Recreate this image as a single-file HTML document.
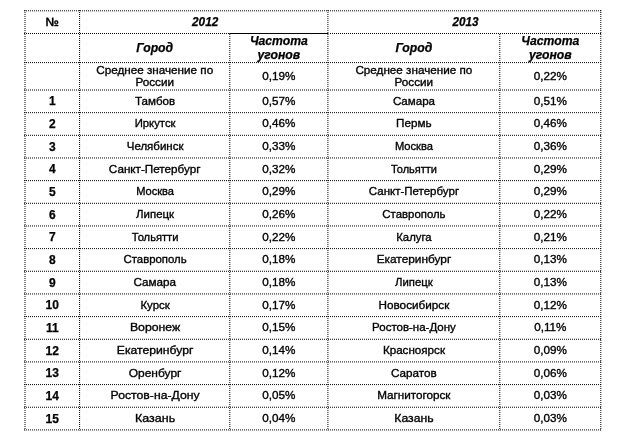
<!DOCTYPE html>
<html><head><meta charset="utf-8"><style>
html,body{margin:0;padding:0;background:#fff;}
body{width:625px;height:439px;overflow:hidden;position:relative;font-family:"Liberation Sans",Arial,sans-serif;color:#000;}
svg{position:absolute;left:0;top:0;}
.d{stroke:#000;stroke-width:1;stroke-dasharray:1 1;}
.t{position:absolute;text-align:center;white-space:nowrap;-webkit-text-stroke:0.35px #000;}
.b{font-weight:bold;-webkit-text-stroke:0.25px #000;}
.bi{font-weight:bold;font-style:italic;-webkit-text-stroke:0.25px #000;}
</style></head><body>
<svg width="625" height="439" viewBox="0 0 625 439">
<line x1="24.00" y1="10.80" x2="601.30" y2="10.80" class="d"/>
<line x1="24.00" y1="33.50" x2="229.30" y2="33.50" class="d"/>
<line x1="229.30" y1="33.50" x2="328.40" y2="33.50" stroke="#000" stroke-width="1"/>
<line x1="330.00" y1="33.50" x2="601.30" y2="33.50" class="d"/>
<line x1="24.00" y1="62.60" x2="601.30" y2="62.60" class="d"/>
<line x1="24.00" y1="90.00" x2="601.30" y2="90.00" class="d"/>
<line x1="24.00" y1="112.66" x2="601.30" y2="112.66" class="d"/>
<line x1="24.00" y1="135.32" x2="601.30" y2="135.32" class="d"/>
<line x1="24.00" y1="157.98" x2="601.30" y2="157.98" class="d"/>
<line x1="24.00" y1="180.64" x2="601.30" y2="180.64" class="d"/>
<line x1="24.00" y1="203.30" x2="601.30" y2="203.30" class="d"/>
<line x1="24.00" y1="225.96" x2="601.30" y2="225.96" class="d"/>
<line x1="24.00" y1="248.62" x2="601.30" y2="248.62" class="d"/>
<line x1="24.00" y1="271.28" x2="601.30" y2="271.28" class="d"/>
<line x1="24.00" y1="293.94" x2="601.30" y2="293.94" class="d"/>
<line x1="24.00" y1="316.60" x2="601.30" y2="316.60" class="d"/>
<line x1="24.00" y1="339.26" x2="601.30" y2="339.26" class="d"/>
<line x1="24.00" y1="361.92" x2="601.30" y2="361.92" class="d"/>
<line x1="24.00" y1="384.58" x2="601.30" y2="384.58" class="d"/>
<line x1="24.00" y1="407.24" x2="601.30" y2="407.24" class="d"/>
<line x1="24.00" y1="429.90" x2="601.30" y2="429.90" class="d"/>
<line x1="25.00" y1="10.00" x2="25.00" y2="430.40" class="d"/>
<line x1="79.60" y1="10.00" x2="79.60" y2="430.40" class="d"/>
<line x1="229.80" y1="34.00" x2="229.80" y2="430.40" class="d"/>
<line x1="327.90" y1="10.00" x2="327.90" y2="430.40" class="d"/>
<line x1="499.80" y1="34.00" x2="499.80" y2="430.40" class="d"/>
<line x1="600.80" y1="10.00" x2="600.80" y2="430.40" class="d"/>
</svg>
<div class="t b" style="left:25.00px;width:54.60px;top:14.89px;height:14px;line-height:14px;font-size:12.0px">№</div>
<div class="t bi" style="left:80.60px;width:248.30px;top:14.89px;height:14px;line-height:14px;font-size:12.2px;transform:scaleX(0.965)">2012</div>
<div class="t bi" style="left:329.10px;width:272.90px;top:14.89px;height:14px;line-height:14px;font-size:12.2px;transform:scaleX(0.960)">2013</div>
<div class="t bi" style="left:79.60px;width:150.20px;top:41.29px;height:14px;line-height:14px;font-size:12.2px">Город</div>
<div class="t bi" style="left:327.90px;width:171.90px;top:41.29px;height:14px;line-height:14px;font-size:12.2px">Город</div>
<div class="t bi" style="left:229.80px;width:98.10px;top:34.29px;height:14px;line-height:14px;font-size:12.2px">Частота</div>
<div class="t bi" style="left:229.80px;width:98.10px;top:48.29px;height:14px;line-height:14px;font-size:12.2px">угонов</div>
<div class="t bi" style="left:499.80px;width:101.00px;top:34.29px;height:14px;line-height:14px;font-size:12.2px">Частота</div>
<div class="t bi" style="left:499.80px;width:101.00px;top:48.29px;height:14px;line-height:14px;font-size:12.2px">угонов</div>
<div class="t" style="left:79.60px;width:150.20px;top:62.61px;height:14px;line-height:14px;font-size:11.7px">Среднее значение по</div>
<div class="t" style="left:79.60px;width:150.20px;top:75.36px;height:14px;line-height:14px;font-size:11.7px">России</div>
<div class="t" style="left:327.90px;width:171.90px;top:62.61px;height:14px;line-height:14px;font-size:11.7px">Среднее значение по</div>
<div class="t" style="left:327.90px;width:171.90px;top:75.36px;height:14px;line-height:14px;font-size:11.7px">России</div>
<div class="t" style="left:229.80px;width:98.10px;top:68.73px;height:14px;line-height:14px;font-size:11.7px">0,19%</div>
<div class="t" style="left:499.80px;width:101.00px;top:68.73px;height:14px;line-height:14px;font-size:11.7px">0,22%</div>
<div class="t b" style="left:25.00px;width:54.60px;top:94.27px;height:14px;line-height:14px;font-size:12.0px">1</div>
<div class="t" style="left:79.60px;width:150.20px;top:93.76px;height:14px;line-height:14px;font-size:11.7px;transform:scaleX(0.990)">Тамбов</div>
<div class="t" style="left:229.80px;width:98.10px;top:93.76px;height:14px;line-height:14px;font-size:11.7px">0,57%</div>
<div class="t" style="left:327.90px;width:171.90px;top:93.76px;height:14px;line-height:14px;font-size:11.7px;transform:scaleX(0.988)">Самара</div>
<div class="t" style="left:499.80px;width:101.00px;top:93.76px;height:14px;line-height:14px;font-size:11.7px">0,51%</div>
<div class="t b" style="left:25.00px;width:54.60px;top:116.93px;height:14px;line-height:14px;font-size:12.0px">2</div>
<div class="t" style="left:79.60px;width:150.20px;top:116.42px;height:14px;line-height:14px;font-size:11.7px;transform:scaleX(0.967)">Иркутск</div>
<div class="t" style="left:229.80px;width:98.10px;top:116.42px;height:14px;line-height:14px;font-size:11.7px">0,46%</div>
<div class="t" style="left:327.90px;width:171.90px;top:116.42px;height:14px;line-height:14px;font-size:11.7px">Пермь</div>
<div class="t" style="left:499.80px;width:101.00px;top:116.42px;height:14px;line-height:14px;font-size:11.7px">0,46%</div>
<div class="t b" style="left:25.00px;width:54.60px;top:139.59px;height:14px;line-height:14px;font-size:12.0px">3</div>
<div class="t" style="left:79.60px;width:150.20px;top:139.08px;height:14px;line-height:14px;font-size:11.7px;transform:scaleX(0.984)">Челябинск</div>
<div class="t" style="left:229.80px;width:98.10px;top:139.08px;height:14px;line-height:14px;font-size:11.7px">0,33%</div>
<div class="t" style="left:327.90px;width:171.90px;top:139.08px;height:14px;line-height:14px;font-size:11.7px;transform:scaleX(0.954)">Москва</div>
<div class="t" style="left:499.80px;width:101.00px;top:139.08px;height:14px;line-height:14px;font-size:11.7px">0,36%</div>
<div class="t b" style="left:25.00px;width:54.60px;top:162.25px;height:14px;line-height:14px;font-size:12.0px">4</div>
<div class="t" style="left:79.60px;width:150.20px;top:161.74px;height:14px;line-height:14px;font-size:11.7px">Санкт-Петербург</div>
<div class="t" style="left:229.80px;width:98.10px;top:161.74px;height:14px;line-height:14px;font-size:11.7px">0,32%</div>
<div class="t" style="left:327.90px;width:171.90px;top:161.74px;height:14px;line-height:14px;font-size:11.7px;transform:scaleX(0.941)">Тольятти</div>
<div class="t" style="left:499.80px;width:101.00px;top:161.74px;height:14px;line-height:14px;font-size:11.7px">0,29%</div>
<div class="t b" style="left:25.00px;width:54.60px;top:184.91px;height:14px;line-height:14px;font-size:12.0px">5</div>
<div class="t" style="left:79.60px;width:150.20px;top:184.40px;height:14px;line-height:14px;font-size:11.7px;transform:scaleX(0.948)">Москва</div>
<div class="t" style="left:229.80px;width:98.10px;top:184.40px;height:14px;line-height:14px;font-size:11.7px">0,29%</div>
<div class="t" style="left:327.90px;width:171.90px;top:184.40px;height:14px;line-height:14px;font-size:11.7px;transform:scaleX(0.985)">Санкт-Петербург</div>
<div class="t" style="left:499.80px;width:101.00px;top:184.40px;height:14px;line-height:14px;font-size:11.7px">0,29%</div>
<div class="t b" style="left:25.00px;width:54.60px;top:207.57px;height:14px;line-height:14px;font-size:12.0px">6</div>
<div class="t" style="left:79.60px;width:150.20px;top:207.06px;height:14px;line-height:14px;font-size:11.7px;transform:scaleX(0.979)">Липецк</div>
<div class="t" style="left:229.80px;width:98.10px;top:207.06px;height:14px;line-height:14px;font-size:11.7px">0,26%</div>
<div class="t" style="left:327.90px;width:171.90px;top:207.06px;height:14px;line-height:14px;font-size:11.7px;transform:scaleX(0.975)">Ставрополь</div>
<div class="t" style="left:499.80px;width:101.00px;top:207.06px;height:14px;line-height:14px;font-size:11.7px">0,22%</div>
<div class="t b" style="left:25.00px;width:54.60px;top:230.23px;height:14px;line-height:14px;font-size:12.0px">7</div>
<div class="t" style="left:79.60px;width:150.20px;top:229.72px;height:14px;line-height:14px;font-size:11.7px;transform:scaleX(0.955)">Тольятти</div>
<div class="t" style="left:229.80px;width:98.10px;top:229.72px;height:14px;line-height:14px;font-size:11.7px">0,22%</div>
<div class="t" style="left:327.90px;width:171.90px;top:229.72px;height:14px;line-height:14px;font-size:11.7px;transform:scaleX(0.972)">Калуга</div>
<div class="t" style="left:499.80px;width:101.00px;top:229.72px;height:14px;line-height:14px;font-size:11.7px">0,21%</div>
<div class="t b" style="left:25.00px;width:54.60px;top:252.89px;height:14px;line-height:14px;font-size:12.0px">8</div>
<div class="t" style="left:79.60px;width:150.20px;top:252.38px;height:14px;line-height:14px;font-size:11.7px;transform:scaleX(0.975)">Ставрополь</div>
<div class="t" style="left:229.80px;width:98.10px;top:252.38px;height:14px;line-height:14px;font-size:11.7px">0,18%</div>
<div class="t" style="left:327.90px;width:171.90px;top:252.38px;height:14px;line-height:14px;font-size:11.7px;transform:scaleX(1.014)">Екатеринбург</div>
<div class="t" style="left:499.80px;width:101.00px;top:252.38px;height:14px;line-height:14px;font-size:11.7px">0,13%</div>
<div class="t b" style="left:25.00px;width:54.60px;top:275.55px;height:14px;line-height:14px;font-size:12.0px">9</div>
<div class="t" style="left:79.60px;width:150.20px;top:275.04px;height:14px;line-height:14px;font-size:11.7px">Самара</div>
<div class="t" style="left:229.80px;width:98.10px;top:275.04px;height:14px;line-height:14px;font-size:11.7px">0,18%</div>
<div class="t" style="left:327.90px;width:171.90px;top:275.04px;height:14px;line-height:14px;font-size:11.7px;transform:scaleX(0.972)">Липецк</div>
<div class="t" style="left:499.80px;width:101.00px;top:275.04px;height:14px;line-height:14px;font-size:11.7px">0,13%</div>
<div class="t b" style="left:25.00px;width:54.60px;top:298.21px;height:14px;line-height:14px;font-size:12.0px">10</div>
<div class="t" style="left:79.60px;width:150.20px;top:297.70px;height:14px;line-height:14px;font-size:11.7px;transform:scaleX(0.977)">Курск</div>
<div class="t" style="left:229.80px;width:98.10px;top:297.70px;height:14px;line-height:14px;font-size:11.7px">0,17%</div>
<div class="t" style="left:327.90px;width:171.90px;top:297.70px;height:14px;line-height:14px;font-size:11.7px;transform:scaleX(1.004)">Новосибирск</div>
<div class="t" style="left:499.80px;width:101.00px;top:297.70px;height:14px;line-height:14px;font-size:11.7px">0,12%</div>
<div class="t b" style="left:25.00px;width:54.60px;top:320.87px;height:14px;line-height:14px;font-size:12.0px">11</div>
<div class="t" style="left:79.60px;width:150.20px;top:320.36px;height:14px;line-height:14px;font-size:11.7px;transform:scaleX(1.051)">Воронеж</div>
<div class="t" style="left:229.80px;width:98.10px;top:320.36px;height:14px;line-height:14px;font-size:11.7px">0,15%</div>
<div class="t" style="left:327.90px;width:171.90px;top:320.36px;height:14px;line-height:14px;font-size:11.7px;transform:scaleX(0.983)">Ростов-на-Дону</div>
<div class="t" style="left:499.80px;width:101.00px;top:320.36px;height:14px;line-height:14px;font-size:11.7px">0,11%</div>
<div class="t b" style="left:25.00px;width:54.60px;top:343.53px;height:14px;line-height:14px;font-size:12.0px">12</div>
<div class="t" style="left:79.60px;width:150.20px;top:343.02px;height:14px;line-height:14px;font-size:11.7px;transform:scaleX(1.043)">Екатеринбург</div>
<div class="t" style="left:229.80px;width:98.10px;top:343.02px;height:14px;line-height:14px;font-size:11.7px">0,14%</div>
<div class="t" style="left:327.90px;width:171.90px;top:343.02px;height:14px;line-height:14px;font-size:11.7px;transform:scaleX(0.995)">Красноярск</div>
<div class="t" style="left:499.80px;width:101.00px;top:343.02px;height:14px;line-height:14px;font-size:11.7px">0,09%</div>
<div class="t b" style="left:25.00px;width:54.60px;top:366.19px;height:14px;line-height:14px;font-size:12.0px">13</div>
<div class="t" style="left:79.60px;width:150.20px;top:365.68px;height:14px;line-height:14px;font-size:11.7px;transform:scaleX(1.025)">Оренбург</div>
<div class="t" style="left:229.80px;width:98.10px;top:365.68px;height:14px;line-height:14px;font-size:11.7px">0,12%</div>
<div class="t" style="left:327.90px;width:171.90px;top:365.68px;height:14px;line-height:14px;font-size:11.7px">Саратов</div>
<div class="t" style="left:499.80px;width:101.00px;top:365.68px;height:14px;line-height:14px;font-size:11.7px">0,06%</div>
<div class="t b" style="left:25.00px;width:54.60px;top:388.85px;height:14px;line-height:14px;font-size:12.0px">14</div>
<div class="t" style="left:79.60px;width:150.20px;top:388.34px;height:14px;line-height:14px;font-size:11.7px;transform:scaleX(1.046)">Ростов-на-Дону</div>
<div class="t" style="left:229.80px;width:98.10px;top:388.34px;height:14px;line-height:14px;font-size:11.7px">0,05%</div>
<div class="t" style="left:327.90px;width:171.90px;top:388.34px;height:14px;line-height:14px;font-size:11.7px">Магнитогорск</div>
<div class="t" style="left:499.80px;width:101.00px;top:388.34px;height:14px;line-height:14px;font-size:11.7px">0,03%</div>
<div class="t b" style="left:25.00px;width:54.60px;top:411.51px;height:14px;line-height:14px;font-size:12.0px">15</div>
<div class="t" style="left:79.60px;width:150.20px;top:411.00px;height:14px;line-height:14px;font-size:11.7px;transform:scaleX(1.067)">Казань</div>
<div class="t" style="left:229.80px;width:98.10px;top:411.00px;height:14px;line-height:14px;font-size:11.7px">0,04%</div>
<div class="t" style="left:327.90px;width:171.90px;top:411.00px;height:14px;line-height:14px;font-size:11.7px;transform:scaleX(1.047)">Казань</div>
<div class="t" style="left:499.80px;width:101.00px;top:411.00px;height:14px;line-height:14px;font-size:11.7px">0,03%</div>
</body></html>
